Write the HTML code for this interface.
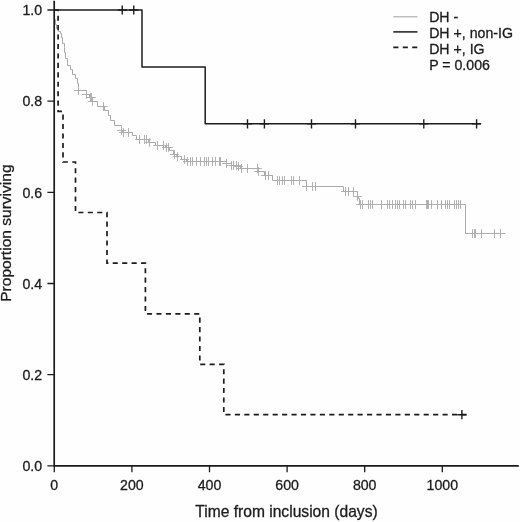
<!DOCTYPE html>
<html lang="en"><head><meta charset="utf-8"><title>Survival by DH status</title>
<style>html,body{margin:0;padding:0;background:#fefefe}body{width:520px;height:522px;overflow:hidden}svg{display:block}</style></head>
<body>
<svg width="520" height="522" viewBox="0 0 520 522">
<rect width="520" height="522" fill="#fefefe"/>
<path fill="none" stroke="#aaaaaa" stroke-width="1" stroke-linejoin="miter" d="M54.3,10H54.5V19.5H55.5V24.5H56.5V28.5H58.5V31.5H60.5V33.5H61.5V37.5H62.5V43.5H64.5V47.5H64.5V52.5H65.5V58.5H67.5V65.5H70.5V69.5H72.5V74.5H75.5V78.5H77.5V83.5H78.5V90.5H86.5V94.5H89.5V97.5H92.5V101.5H97.5V106.5H104.5V110.5H108.5V115.5H110.5V120.5H114.5V125.5H121.5V130.5H122.5V132.5H132.5V135.5H136.5V139.5H148.5V142.5H155.5V145.5H165.5V147.5H169.5V150.5H173.5V154.5H176.5V156.5H181.5V159.5H186.5V161.5H226.5V163.5H231.5V165.5H238.5V166.5H240.5V168.5H258.5V171.5H264.5V175.5H272.5V180.5H306.5V186.5H343.5V191.5H357.5V196.5H358.5V198.5H359.5V204.5H465.5V233.5H505.6"/>
<path fill="none" stroke="#adadad" stroke-width="0.95" d="M74.10,90.50h8.8M78.50,86.10v8.8 M82.10,94.50h8.8M86.50,90.10v8.8 M86.10,97.50h8.8M90.50,93.10v8.8 M87.10,97.50h8.8M91.50,93.10v8.8 M88.10,101.50h8.8M92.50,97.10v8.8 M99.10,106.50h8.8M103.50,102.10v8.8 M117.10,130.50h8.8M121.50,126.10v8.8 M119.10,132.50h8.8M123.50,128.10v8.8 M124.10,132.50h8.8M128.50,128.10v8.8 M135.10,139.50h8.8M139.50,135.10v8.8 M140.10,139.50h8.8M144.50,135.10v8.8 M142.10,139.50h8.8M146.50,135.10v8.8 M145.10,142.50h8.8M149.50,138.10v8.8 M153.10,145.50h8.8M157.50,141.10v8.8 M159.10,145.50h8.8M163.50,141.10v8.8 M162.10,147.50h8.8M166.50,143.10v8.8 M164.10,147.50h8.8M168.50,143.10v8.8 M170.10,154.50h8.8M174.50,150.10v8.8 M173.10,156.50h8.8M177.50,152.10v8.8 M180.10,159.50h8.8M184.50,155.10v8.8 M183.10,161.50h8.8M187.50,157.10v8.8 M186.10,161.50h8.8M190.50,157.10v8.8 M188.10,161.50h8.8M192.50,157.10v8.8 M192.10,161.50h8.8M196.50,157.10v8.8 M196.10,161.50h8.8M200.50,157.10v8.8 M200.10,161.50h8.8M204.50,157.10v8.8 M202.10,161.50h8.8M206.50,157.10v8.8 M204.10,161.50h8.8M208.50,157.10v8.8 M208.10,161.50h8.8M212.50,157.10v8.8 M211.10,161.50h8.8M215.50,157.10v8.8 M215.10,161.50h8.8M219.50,157.10v8.8 M216.10,161.50h8.8M220.50,157.10v8.8 M222.10,163.50h8.8M226.50,159.10v8.8 M227.10,165.50h8.8M231.50,161.10v8.8 M229.10,165.50h8.8M233.50,161.10v8.8 M232.10,165.50h8.8M236.50,161.10v8.8 M234.10,166.50h8.8M238.50,162.10v8.8 M237.10,168.50h8.8M241.50,164.10v8.8 M243.10,168.50h8.8M247.50,164.10v8.8 M253.10,168.50h8.8M257.50,164.10v8.8 M254.10,171.50h8.8M258.50,167.10v8.8 M261.10,175.50h8.8M265.50,171.10v8.8 M264.10,175.50h8.8M268.50,171.10v8.8 M273.10,180.50h8.8M277.50,176.10v8.8 M275.10,180.50h8.8M279.50,176.10v8.8 M278.10,180.50h8.8M282.50,176.10v8.8 M280.10,180.50h8.8M284.50,176.10v8.8 M287.10,180.50h8.8M291.50,176.10v8.8 M289.10,180.50h8.8M293.50,176.10v8.8 M295.10,180.50h8.8M299.50,176.10v8.8 M302.10,186.50h8.8M306.50,182.10v8.8 M308.10,186.50h8.8M312.50,182.10v8.8 M311.10,186.50h8.8M315.50,182.10v8.8 M341.10,191.50h8.8M345.50,187.10v8.8 M344.10,191.50h8.8M348.50,187.10v8.8 M349.10,191.50h8.8M353.50,187.10v8.8 M353.10,196.50h8.8M357.50,192.10v8.8 M356.10,204.50h8.8M360.50,200.10v8.8 M358.10,204.50h8.8M362.50,200.10v8.8 M364.10,204.50h8.8M368.50,200.10v8.8 M366.10,204.50h8.8M370.50,200.10v8.8 M368.10,204.50h8.8M372.50,200.10v8.8 M377.10,204.50h8.8M381.50,200.10v8.8 M383.10,204.50h8.8M387.50,200.10v8.8 M385.10,204.50h8.8M389.50,200.10v8.8 M388.10,204.50h8.8M392.50,200.10v8.8 M391.10,204.50h8.8M395.50,200.10v8.8 M393.10,204.50h8.8M397.50,200.10v8.8 M395.10,204.50h8.8M399.50,200.10v8.8 M399.10,204.50h8.8M403.50,200.10v8.8 M401.10,204.50h8.8M405.50,200.10v8.8 M406.10,204.50h8.8M410.50,200.10v8.8 M408.10,204.50h8.8M412.50,200.10v8.8 M411.10,204.50h8.8M415.50,200.10v8.8 M422.10,204.50h8.8M426.50,200.10v8.8 M423.10,204.50h8.8M427.50,200.10v8.8 M424.10,204.50h8.8M428.50,200.10v8.8 M427.10,204.50h8.8M431.50,200.10v8.8 M433.10,204.50h8.8M437.50,200.10v8.8 M437.10,204.50h8.8M441.50,200.10v8.8 M441.10,204.50h8.8M445.50,200.10v8.8 M443.10,204.50h8.8M447.50,200.10v8.8 M445.10,204.50h8.8M449.50,200.10v8.8 M450.10,204.50h8.8M454.50,200.10v8.8 M452.10,204.50h8.8M456.50,200.10v8.8 M454.10,204.50h8.8M458.50,200.10v8.8 M456.10,204.50h8.8M460.50,200.10v8.8 M468.10,233.50h8.8M472.50,229.10v8.8 M470.10,233.50h8.8M474.50,229.10v8.8 M471.10,233.50h8.8M475.50,229.10v8.8 M477.10,233.50h8.8M481.50,229.10v8.8 M490.10,233.50h8.8M494.50,229.10v8.8 M496.10,233.50h8.8M500.50,229.10v8.8"/>
<path fill="none" stroke="#1c1c1c" stroke-width="1.7" stroke-dasharray="5.1 4.34" d="M54.3,10 H58.1 V111.3 H63 V162 H75.5 V212.5 H107 V263.1 H145.4 V313.8 H199.8 V364.4 H223.8 V414.7 H466.5"/>
<path fill="none" stroke="#1c1c1c" stroke-width="1.4" d="M457.30,414.70h9.2M461.90,410.10v9.2"/>
<path fill="none" stroke="#1c1c1c" stroke-width="1.5" stroke-linejoin="round" d="M54.3,10 H142 V66.9 H205.2 V123.85 H481"/>
<path fill="none" stroke="#1c1c1c" stroke-width="1.4" d="M117.65,10.00h9.2M122.25,5.40v9.2 M129.15,10.00h9.2M133.75,5.40v9.2 M242.90,123.85h9.2M247.50,119.25v9.2 M259.80,123.85h9.2M264.40,119.25v9.2 M306.90,123.85h9.2M311.50,119.25v9.2 M350.90,123.85h9.2M355.50,119.25v9.2 M419.20,123.85h9.2M423.80,119.25v9.2 M472.00,123.85h9.2M476.60,119.25v9.2"/>
<path fill="none" stroke="#1c1c1c" stroke-width="1.7" d="M54.2,0.8 V465.8 H518.8"/>
<path fill="none" stroke="#1c1c1c" stroke-width="1.3" d="M54.3,465.80H47.4M54.3,374.64H47.4M54.3,283.48H47.4M54.3,192.32H47.4M54.3,101.16H47.4M54.3,10.00H47.4M54.30,465.8V472.2M131.90,465.8V472.2M209.50,465.8V472.2M287.10,465.8V472.2M364.70,465.8V472.2M442.30,465.8V472.2"/>
<g font-family="'Liberation Sans', Arial, Helvetica, sans-serif" fill="#1c1c1c" stroke="#1c1c1c" stroke-width="0.3">
<g font-size="14.17px" text-anchor="end">
<text x="42.2" y="471.05">0.0</text>
<text x="42.2" y="379.89">0.2</text>
<text x="42.2" y="288.73">0.4</text>
<text x="42.2" y="197.57">0.6</text>
<text x="42.2" y="106.41">0.8</text>
<text x="42.2" y="15.25">1.0</text>
</g>
<g font-size="14.17px" text-anchor="middle">
<text x="54.30" y="489.8">0</text>
<text x="131.90" y="489.8">200</text>
<text x="209.50" y="489.8">400</text>
<text x="287.10" y="489.8">600</text>
<text x="364.70" y="489.8">800</text>
<text x="442.30" y="489.8">1000</text>
</g>
<text font-size="15.62px" text-anchor="middle" x="286.45" y="517.3">Time from inclusion (days)</text>
<text font-size="15.56px" text-anchor="middle" transform="translate(11.1,233.1) rotate(-90)">Proportion surviving</text>
<g font-size="14.17px">
<text x="429.15" y="22.2">DH -</text>
<text x="429.15" y="37.7">DH +, non-IG</text>
<text x="429.15" y="53.7">DH +, IG</text>
<text x="429.15" y="69.5">P = 0.006</text>
</g></g>
<path fill="none" stroke="#aaaaaa" stroke-width="1.1" d="M393.3,16.8H417.5"/>
<path fill="none" stroke="#1c1c1c" stroke-width="1.5" d="M393.3,31.9H417.5"/>
<path fill="none" stroke="#1c1c1c" stroke-width="1.7" stroke-dasharray="5.1 4.34" d="M393.3,47.4H417.5"/>
</svg>
</body></html>
